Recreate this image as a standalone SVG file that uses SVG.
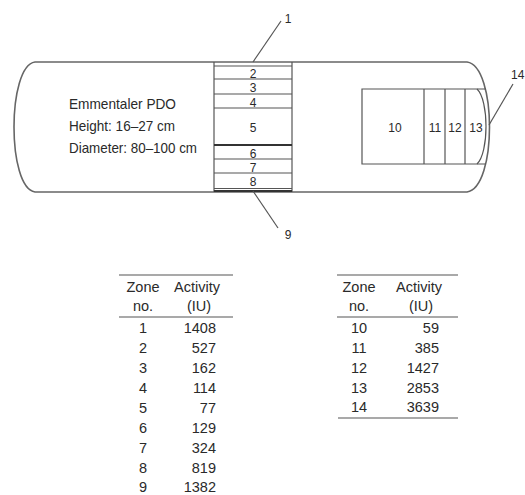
<svg xmlns="http://www.w3.org/2000/svg" width="525" height="495" viewBox="0 0 525 495">
<style>
.ln{fill:none;stroke:#555;stroke-width:1.2}
.ol{fill:none;stroke:#666;stroke-width:1.6}
.t{font-family:"Liberation Sans",Arial,sans-serif;fill:#2a2a2a}
.s{font-size:12px;text-anchor:middle}
.m{font-size:14.5px}
.c{text-anchor:middle}
.r{text-anchor:end}
</style>
<rect width="525" height="495" fill="#fff"/>
<g id="cheese">
<path class="ol" d="M35,62 L467,62 C497,66 497,188 467,192 L35,192 C7,188 7,66 35,62 Z"/>
<text class="t m" x="69" y="109" textLength="107" lengthAdjust="spacingAndGlyphs">Emmentaler PDO</text>
<text class="t m" x="69" y="131" textLength="106" lengthAdjust="spacingAndGlyphs">Height: 16–27 cm</text>
<text class="t m" x="69" y="153" textLength="128" lengthAdjust="spacingAndGlyphs">Diameter: 80–100 cm</text>
</g>
<g id="band">
<line class="ln" x1="214" y1="62" x2="214" y2="192"/>
<line class="ln" x1="292" y1="62" x2="292" y2="192"/>
<line class="ln" x1="214" y1="66" x2="292" y2="66"/>
<line class="ln" x1="214" y1="79" x2="292" y2="79"/>
<line class="ln" x1="214" y1="94" x2="292" y2="94"/>
<line class="ln" x1="214" y1="108" x2="292" y2="108"/>
<line class="ln" x1="214" y1="145" x2="292" y2="145" style="stroke-width:2.2;stroke:#333"/>
<line class="ln" x1="214" y1="159" x2="292" y2="159"/>
<line class="ln" x1="214" y1="173" x2="292" y2="173"/>
<line class="ln" x1="214" y1="188.5" x2="292" y2="188.5"/>
<line class="ln" x1="214" y1="191" x2="292" y2="191" style="stroke-width:2;stroke:#333"/>
<text class="t s" x="253" y="77.5">2</text>
<text class="t s" x="253" y="92">3</text>
<text class="t s" x="253" y="106.5">4</text>
<text class="t s" x="253" y="132">5</text>
<text class="t s" x="253" y="157.5">6</text>
<text class="t s" x="253" y="171.5">7</text>
<text class="t s" x="253" y="186">8</text>
</g>
<g id="rind-box">
<path class="ln" d="M486,89 L362,89 L362,164 L486,164"/>
<line class="ln" x1="424" y1="89" x2="424" y2="164"/>
<line class="ln" x1="445" y1="89" x2="445" y2="164"/>
<line class="ln" x1="465" y1="89" x2="465" y2="164"/>
<path class="ln" d="M477,89 C489,100 489,153 477,164"/>
<text class="t s" x="395" y="132">10</text>
<text class="t s" x="435" y="132">11</text>
<text class="t s" x="455" y="132">12</text>
<text class="t s" x="476" y="132">13</text>
</g>
<g id="connectors">
<line class="ln" x1="253" y1="62" x2="281" y2="21"/>
<line class="ln" x1="253" y1="191" x2="278" y2="228"/>
<line class="ln" x1="489" y1="125" x2="513" y2="84"/>
</g>
<g id="labels">
<text class="t s" x="288" y="23">1</text>
<text class="t s" x="288" y="239">9</text>
<text class="t" x="511" y="79" style="font-size:12px">14</text>
</g>
<g id="table1" class="t m">
<line class="ln" x1="119" y1="275" x2="233" y2="275"/>
<line class="ln" x1="119" y1="317" x2="233" y2="317"/>
<text class="c" x="143" y="292">Zone</text>
<text class="c" x="143" y="311">no.</text>
<text class="c" x="197" y="292">Activity</text>
<text class="c" x="199" y="311">(IU)</text>
<g class="c">
<text x="143" y="333">1</text><text x="143" y="353">2</text><text x="143" y="373">3</text>
<text x="143" y="393">4</text><text x="143" y="413">5</text><text x="143" y="433">6</text>
<text x="143" y="453">7</text><text x="143" y="473">8</text><text x="143" y="492">9</text>
</g>
<g class="r">
<text x="216" y="333">1408</text><text x="216" y="353">527</text><text x="216" y="373">162</text>
<text x="216" y="393">114</text><text x="216" y="413">77</text><text x="216" y="433">129</text>
<text x="216" y="453">324</text><text x="216" y="473">819</text><text x="216" y="492">1382</text>
</g>
</g>
<g id="table2" class="t m">
<line class="ln" x1="337" y1="275" x2="458" y2="275"/>
<line class="ln" x1="337" y1="317" x2="458" y2="317"/>
<line class="ln" x1="338" y1="418" x2="458" y2="418"/>
<text class="c" x="359" y="292">Zone</text>
<text class="c" x="359" y="311">no.</text>
<text class="c" x="419" y="292">Activity</text>
<text class="c" x="421" y="311">(IU)</text>
<g class="c">
<text x="359" y="333">10</text><text x="359" y="353">11</text><text x="359" y="373">12</text>
<text x="359" y="393">13</text><text x="359" y="412">14</text>
</g>
<g class="r">
<text x="439" y="333">59</text><text x="439" y="353">385</text><text x="439" y="373">1427</text>
<text x="439" y="393">2853</text><text x="439" y="412">3639</text>
</g>
</g>
</svg>
